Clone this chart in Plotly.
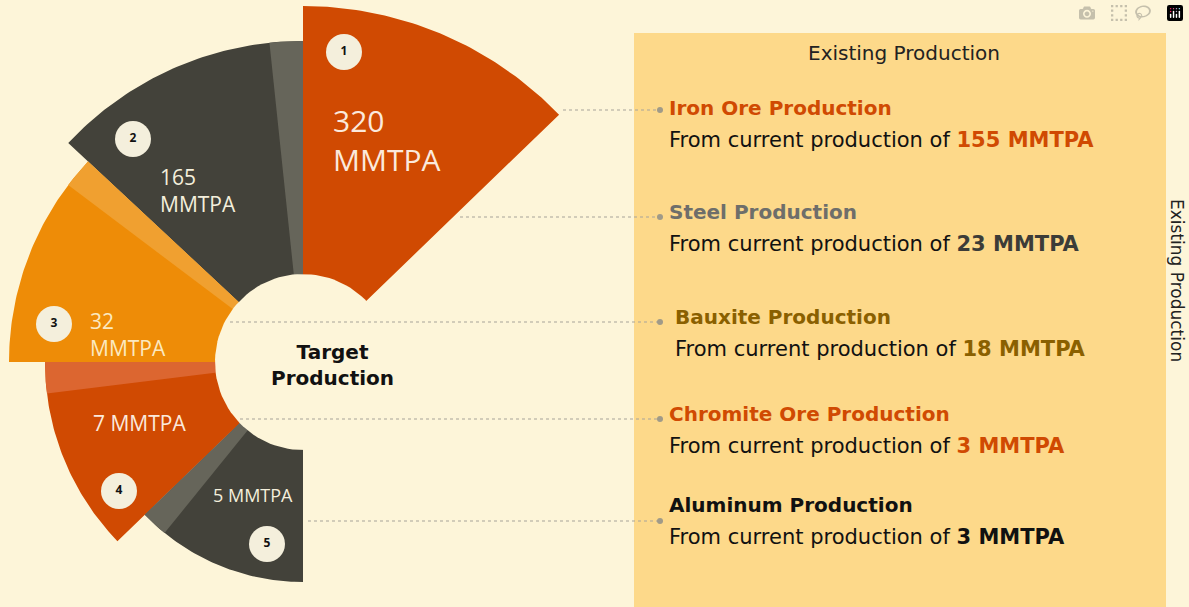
import numpy as np
import plotly.graph_objects as go

# ---- data ----
categories = ["Iron Ore Production", "Steel Production", "Bauxite Production",
              "Chromite Ore Production", "Aluminum Production"]
target_values = [320, 165, 32, 7, 5]
existing_values = [155, 23, 18, 3, 3]
unit = "MMTPA"

# ---- styling ----
seg_colors = ["#d04a02", "#43423a", "#ee8c07", "#d04a02", "#43423a"]
sliver_colors = [None, "#66655a", "#f0a030", "#dc6630", "#66655a"]
title_colors = ["#d04a02", "#6e6e6a", "#8a6000", "#d04a02", "#111111"]
value_colors = ["#d04a02", "#3c3c38", "#8a6000", "#d04a02", "#111111"]
seg_start = [44, 90, 137, 180, 224]      # degrees
seg_end = [90, 137, 180, 224, 270]
seg_outer = [356, 321, 294, 258, 220]
sliver_deg = [0, 6, 6, 7, 7]
inner_r = 88
cx, cy = 303, 362
bg = "#fdf5d9"

fig = go.Figure()

def wedge(a0, a1, r0, r1, color):
    t = np.radians(np.linspace(a0, a1, 60))
    xs = np.concatenate([cx + r1 * np.cos(t), cx + r0 * np.cos(t[::-1])])
    ys = np.concatenate([cy - r1 * np.sin(t), cy - r0 * np.sin(t[::-1])])
    fig.add_trace(go.Scatter(x=xs, y=ys, fill="toself", fillcolor=color, mode="lines",
                             line=dict(width=0, color=color), hoverinfo="skip", showlegend=False))

for i in range(5):
    wedge(seg_start[i], seg_end[i], inner_r - 30, seg_outer[i], seg_colors[i])
    if sliver_deg[i]:
        wedge(seg_start[i], seg_start[i] + sliver_deg[i], inner_r - 30, seg_outer[i], sliver_colors[i])

# hole
t = np.radians(np.linspace(0, 360, 120))
fig.add_trace(go.Scatter(x=cx + inner_r * np.cos(t), y=cy - inner_r * np.sin(t), fill="toself",
                         fillcolor=bg, mode="lines", line=dict(width=0, color=bg),
                         hoverinfo="skip", showlegend=False))

# panel
fig.add_shape(type="rect", x0=634, x1=1166, y0=33, y1=620, fillcolor="#fdd98a",
              line=dict(width=0), layer="below")

font = "Open Sans"
pfont = "DejaVu Sans"
# connector lines
line_y = [110, 217, 322, 419, 521]
line_x0 = [563, 460, 230, 240, 308]
for i in range(5):
    fig.add_trace(go.Scatter(x=[line_x0[i], 660], y=[line_y[i]] * 2, mode="lines",
                             line=dict(color="#a8a39a", width=1.2, dash="dot"),
                             hoverinfo="skip", showlegend=False))
    fig.add_trace(go.Scatter(x=[660], y=[line_y[i]], mode="markers",
                             marker=dict(color="#a09a88", size=6),
                             hoverinfo="skip", showlegend=False))

# number badges
badge_xy = [(344, 52), (133, 139), (54, 324), (119, 491), (267, 544)]
fig.add_trace(go.Scatter(x=[p[0] for p in badge_xy], y=[p[1] for p in badge_xy],
                         mode="markers+text", marker=dict(size=36, color="#f4efdc"),
                         text=[f"<b>{i+1}</b>" for i in range(5)],
                         textfont=dict(family=font, size=12, color="#111"),
                         textposition="middle center", hoverinfo="skip", showlegend=False))

# value labels on segments
val_lbl = [(331, 140, f"{target_values[0]}<br>{unit}", 30),
           (158, 190, f"{target_values[1]}<br>{unit}", 21),
           (88, 334, f"{target_values[2]}<br>{unit}", 21),
           (91, 423, f"{target_values[3]} {unit}", 21),
           (211, 495, f"{target_values[4]} {unit}", 18)]
lbl_colors = ["#fbe9dc", "#f4efdc", "#fbe9c0", "#fbe9dc", "#f4efdc"]
for (x, y, s, sz), c in zip(val_lbl, lbl_colors):
    fig.add_annotation(x=x, y=y, text=s, showarrow=False, xanchor="left", align="left",
                       font=dict(family=font, size=sz, color=c))

fig.add_annotation(x=332, y=365, text="<b>Target<br>Production</b>", showarrow=False,
                   font=dict(family=pfont, size=20, color="#111"), align="center")

# right panel texts
fig.add_annotation(x=904, y=53, text="Existing Production", showarrow=False,
                   font=dict(family=pfont, size=20, color="#222"))
fig.add_annotation(x=1177, y=280, text="Existing Production", showarrow=False, textangle=90,
                   font=dict(family=pfont, size=17, color="#222"))
title_y = [108, 212, 317, 414, 505]
for i in range(5):
    fig.add_annotation(x=667 if i != 2 else 673, y=title_y[i], text=f"<b>{categories[i]}</b>",
                       showarrow=False, xanchor="left",
                       font=dict(family=pfont, size=20, color=title_colors[i]))
    fig.add_annotation(x=667 if i != 2 else 673, y=title_y[i] + 32,
                       text=f"From current production of <b><span style='color:{value_colors[i]}'>{existing_values[i]} {unit}</span></b>",
                       showarrow=False, xanchor="left",
                       font=dict(family=pfont, size=21, color="#111"))

fig.update_layout(width=1189, height=607, margin=dict(l=0, r=0, t=0, b=0),
                  paper_bgcolor=bg, plot_bgcolor=bg,
                  xaxis=dict(range=[0, 1189], visible=False, fixedrange=True),
                  yaxis=dict(range=[607, 0], visible=False, fixedrange=True))
fig.write_html("out.html", post_script="document.body.style.margin='0';document.body.style.background='#fdf5d9';")
